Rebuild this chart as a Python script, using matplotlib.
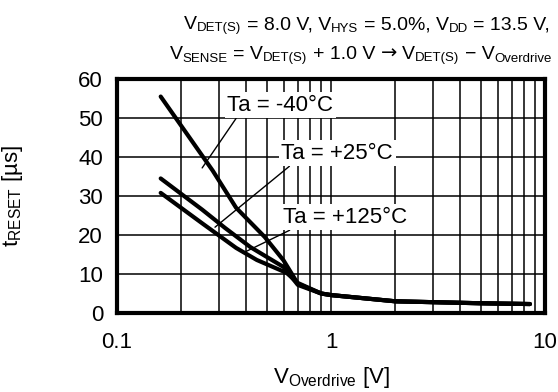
import numpy as np
import matplotlib
matplotlib.use("Agg")
import matplotlib.pyplot as plt

plt.rcParams['font.family'] = ['Liberation Sans', 'DejaVu Sans']
plt.rcParams['mathtext.fontset'] = 'custom'
plt.rcParams['mathtext.rm'] = 'Liberation Sans'
plt.rcParams['mathtext.it'] = 'Liberation Sans'

# data (V_overdrive [V], t_reset [us])
x_m40 = [0.16, 0.28, 0.36, 0.49, 0.6, 0.7, 0.9, 1.0, 2.0, 5.0, 8.5]
y_m40 = [55.5, 36.5, 27.0, 19.5, 13.5, 7.5, 5.0, 4.6, 3.0, 2.5, 2.3]
x_p25 = [0.16, 0.25, 0.32, 0.42, 0.6, 0.7, 0.9, 1.0, 2.0, 5.0, 8.5]
y_p25 = [34.5, 26.5, 21.8, 16.9, 11.8, 7.2, 5.0, 4.6, 3.0, 2.5, 2.3]
x_p125 = [0.16, 0.25, 0.36, 0.45, 0.62, 0.7, 0.9, 1.0, 2.0, 5.0, 8.5]
y_p125 = [30.8, 23.0, 16.7, 13.6, 10.3, 7.7, 5.0, 4.6, 3.0, 2.5, 2.3]

labels = ['Ta = -40°C', 'Ta = +25°C', 'Ta = +125°C']
label_pos = [(0.58, 53.3), (1.07, 41.0), (1.16, 24.6)]
leader_end = [(0.25, 37.2), (0.287, 22.0), (0.388, 15.4)]

# title pieces: (text, kind) with kind 'm' main, 's' subscript, 'a' arrow
title_1 = [('V', 'm'), ('DET(S)', 's'), (' = 8.0 V, V', 'm'), ('HYS', 's'),
           (' = 5.0%, V', 'm'), ('DD', 's'), (' = 13.5 V,', 'm')]
title_2 = [('V', 'm'), ('SENSE', 's'), (' = V', 'm'), ('DET(S)', 's'),
           (' + 1.0 V ', 'm'), ('\u2192', 'a'), (' V', 'm'), ('DET(S)', 's'),
           (' \u2212 V', 'm'), ('Overdrive', 's')]

fs = 16
title_fs, sub_fs = 14, 9.5
W, H = 558, 392


def draw_rich(fig, x_right, y_base, parts, sub_drop=2.5):
    r = fig.canvas.get_renderer()
    styles = {'m': (title_fs, 'Liberation Sans'),
              's': (sub_fs, 'Liberation Sans'),
              'a': (title_fs, 'DejaVu Sans')}

    def width(s, sz, fam):
        a = fig.text(0, 0, 'x' + s + 'x', fontsize=sz, family=fam)
        b = fig.text(0, 0, 'xx', fontsize=sz, family=fam)
        w = a.get_window_extent(r).width - b.get_window_extent(r).width
        a.remove()
        b.remove()
        return w

    widths = [width(s, *styles[k]) for s, k in parts]
    x = x_right - sum(widths)
    for (s, k), w in zip(parts, widths):
        sz, fam = styles[k]
        lead = len(s) - len(s.lstrip())
        dx = width(' ' * lead, sz, fam) if lead else 0
        yy = y_base + (sub_drop if k == 's' else 0)
        fig.text((x + dx) / W, 1 - yy / H, s.strip(), fontsize=sz, family=fam,
                 ha='left', va='baseline')
        x += w


fig = plt.figure(figsize=(5.58, 3.92), dpi=100)
ax = fig.add_axes([0.2097, 0.2015, 0.7670, 0.5970])

for xs, ys in [(x_m40, y_m40), (x_p25, y_p25), (x_p125, y_p125)]:
    ax.plot(xs, ys, color='black', lw=3, solid_capstyle='round', zorder=3)

ax.set_xscale('log')
ax.set_xlim(0.1, 10)
ax.set_ylim(0, 60)
ax.set_yticks(np.arange(0, 61, 10))
ax.set_xticks([0.1, 1, 10])
ax.set_xticklabels(['0.1', '1', '10'])
ax.grid(True, which='both', color='black', lw=1.1)
ax.tick_params(which='both', length=0, labelsize=fs)
ax.tick_params(axis='x', pad=14)
ax.tick_params(axis='y', pad=10)
for s in ax.spines.values():
    s.set_linewidth(3)

for txt, (tx, ty), (ex, ey) in zip(labels, label_pos, leader_end):
    ax.annotate(txt, xy=(ex, ey), xytext=(tx, ty), ha='center', va='center',
                fontsize=fs, zorder=4,
                bbox=dict(boxstyle='square,pad=0.12', fc='white', ec='none'),
                arrowprops=dict(arrowstyle='-', color='black', lw=1.0,
                                relpos=(0.1, 0.0), shrinkA=0, shrinkB=0))

ax.set_xlabel(r'$\mathrm{V_{Overdrive}}$ [V]', fontsize=fs, labelpad=8)
ax.set_ylabel(r'$\mathrm{t_{RESET}}$ [µs]', fontsize=fs, labelpad=38)

draw_rich(fig, 550, 29, title_1)
draw_rich(fig, 552, 59, title_2)

fig.savefig('out.png', dpi=100)
